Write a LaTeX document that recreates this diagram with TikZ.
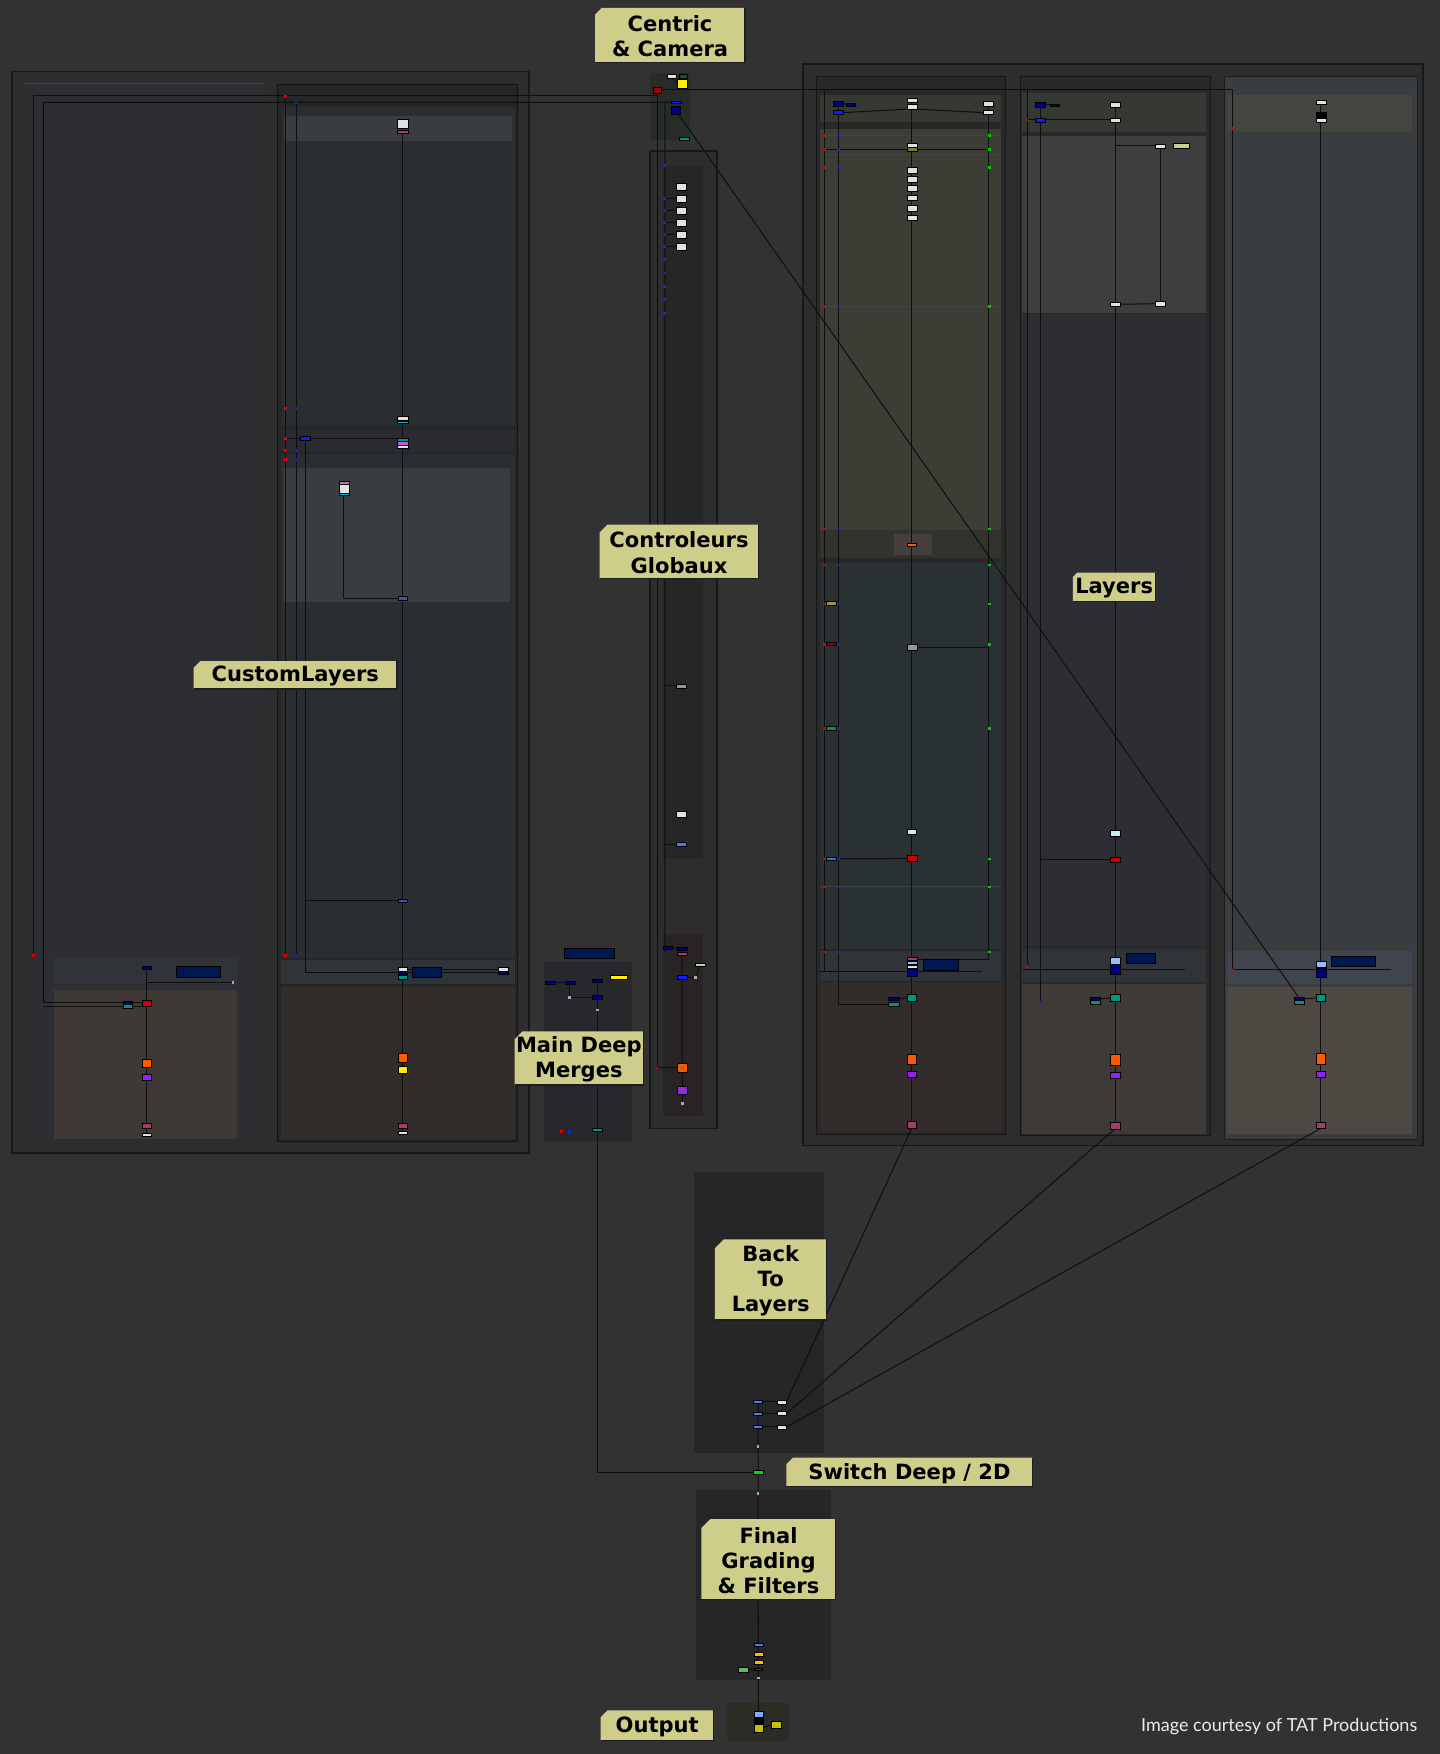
\documentclass[tikz,border=0pt]{standalone}
\usepackage{fontspec}
\newfontfamily\notefont{DejaVu Sans}
\newfontfamily\creditfont{Lato}
\pgfdeclarelayer{back}
\pgfdeclarelayer{wires}
\pgfdeclarelayer{front}
\pgfsetlayers{back,wires,main,front}
% backdrop colours
\definecolor{bgc}{RGB}{50,50,50}
\definecolor{framec}{RGB}{45,45,45}
\definecolor{frameb}{RGB}{24,24,24}
\definecolor{colA}{RGB}{44,46,50}
\definecolor{colB}{RGB}{37,39,39}
\definecolor{panelB}{RGB}{42,46,49}
\definecolor{lightP}{RGB}{58,61,64}
\definecolor{bandc}{RGB}{48,51,56}
\definecolor{brownA}{RGB}{62,57,53}
\definecolor{brownB}{RGB}{50,45,43}
\definecolor{ctrlc}{RGB}{38,38,38}
\definecolor{ctrlbr}{RGB}{40,36,36}
\definecolor{mdmc}{RGB}{38,40,44}
\definecolor{camc}{RGB}{40,44,40}
\definecolor{r1c}{RGB}{40,40,40}
\definecolor{greenP}{RGB}{54,57,49}
\definecolor{oliveP}{RGB}{60,61,53}
\definecolor{oliveD}{RGB}{50,51,45}
\definecolor{brownS}{RGB}{70,62,58}
\definecolor{tealP}{RGB}{41,49,51}
\definecolor{r2c}{RGB}{40,41,43}
\definecolor{grayP}{RGB}{62,62,62}
\definecolor{r2dark}{RGB}{44,46,52}
\definecolor{r2brown}{RGB}{62,58,54}
\definecolor{r3c}{RGB}{57,61,64}
\definecolor{r3green}{RGB}{66,70,62}
\definecolor{r3band}{RGB}{64,68,76}
\definecolor{r3brown}{RGB}{78,72,66}
\definecolor{outc}{RGB}{42,44,38}
\definecolor{notec}{RGB}{206,205,138}
\definecolor{noteedge}{RGB}{28,28,36}
\definecolor{linec}{RGB}{14,14,14}
\definecolor{edgec}{RGB}{68,70,74}
\definecolor{creditc}{RGB}{235,235,235}
\definecolor{dotc}{RGB}{170,170,170}
% node colours
\definecolor{nWhite}{RGB}{225,225,225}
\definecolor{nDB}{RGB}{0,0,135}
\definecolor{nDBbox}{RGB}{0,24,82}
\definecolor{nBlue}{RGB}{10,30,255}
\definecolor{nBlueM}{RGB}{60,80,200}
\definecolor{nBlueL}{RGB}{80,120,230}
\definecolor{nBlueS}{RGB}{50,120,210}
\definecolor{nTeal}{RGB}{0,150,125}
\definecolor{nOrange}{RGB}{255,90,0}
\definecolor{nPurple}{RGB}{150,30,255}
\definecolor{nViolet}{RGB}{190,90,230}
\definecolor{nPink}{RGB}{175,120,175}
\definecolor{nCyan}{RGB}{20,170,210}
\definecolor{nMag}{RGB}{165,60,105}
\definecolor{nRed}{RGB}{205,0,0}
\definecolor{nRedD}{RGB}{150,0,0}
\definecolor{nLCyan}{RGB}{200,235,250}
\definecolor{nLBlue}{RGB}{150,190,255}
\definecolor{nYellow}{RGB}{255,240,0}
\definecolor{nYellowD}{RGB}{200,190,0}
\definecolor{nGreen}{RGB}{0,225,0}
\definecolor{nGreenL}{RGB}{90,190,100}
\definecolor{nGreenD}{RGB}{20,90,30}
\definecolor{nGreenM}{RGB}{0,150,60}
\definecolor{nOliveG}{RGB}{100,130,60}
\definecolor{nOliveY}{RGB}{160,150,60}
\definecolor{nGray}{RGB}{150,150,150}
\definecolor{nLGreen}{RGB}{190,210,170}
\definecolor{nOrangeY}{RGB}{255,185,0}
\definecolor{nPurpleD}{RGB}{70,50,110}
\definecolor{dotRed}{RGB}{220,0,0}
\definecolor{dotBlue}{RGB}{30,30,230}
\definecolor{dotGreen}{RGB}{0,200,0}
\tikzset{
  ln/.style={draw=linec,line width=0.9pt},
  nd/.style={draw=black,line width=0.35pt,inner sep=0pt,outer sep=0pt,rectangle},
  notetxt/.style={font=\notefont\bfseries\fontsize{18.8}{22.6}\selectfont,align=center,text=black,inner sep=0pt},
  credit/.style={font=\creditfont\fontsize{16.1}{18}\selectfont,text=creditc,inner sep=0pt},
}
\newcommand\nd[6]{\node[nd,fill=#2,minimum width=#5,minimum height=#6] (#1) at (#3,#4) {};}
\newcommand\ndot[4]{\node[inner sep=0pt,outer sep=0pt,minimum size=2.4,fill=#4,draw=none] (#1) at (#2,#3) {};}
\newcommand\bdrop[5]{\fill[#1] (#2,#3) rectangle (#4,#5);}
\newcommand\stickynote[7]{%
  \fill[notec] ({#2+#6},#3) -- (#4,#3) -- (#4,#5) -- (#2,#5) -- (#2,{#3+#6}) -- cycle;
  \draw[noteedge,line width=1.2pt] (#2,#5) -- (#4,#5) -- (#4,#3);
  \node[notetxt] (#1) at ({(#2+#4)/2},{(#3+#5)/2+1}) {#7};}
\begin{document}
\begin{tikzpicture}[x=1pt,y=-1pt]
\useasboundingbox (0,0) rectangle (1287,1568);
\begin{pgfonlayer}{back}
\fill[bgc] (0,0) rectangle (1287,1568);
% ---------- left frame (CustomLayers)
\filldraw[fill=framec,draw=frameb,line width=1.5pt] (11,64) rectangle (473,1031);
\bdrop{colA}{21}{74}{236}{1021}
\draw[edgec,line width=1pt] (21,74.5) -- (236,74.5);
\bdrop{bandc}{48}{856}{212}{880}
\bdrop{brownA}{48}{885}{212}{1018}
\filldraw[fill=colB,draw=black!60!framec] (248,75) rectangle (462,1020);
\bdrop{panelB}{252}{96}{460}{381}
\bdrop{lightP}{254}{104}{458}{126}
\bdrop{bandc!85!black}{251}{384}{460}{404}
\bdrop{panelB}{251}{406}{460}{856}
\bdrop{lightP}{253}{418}{456}{538}
\bdrop{bandc}{251}{858}{460}{880}
\bdrop{brownB}{251}{882}{460}{1018}
% ---------- centre column
\bdrop{camc}{581}{65}{617}{125}
\filldraw[fill=framec,draw=frameb,line width=1.2pt] (581,135) rectangle (641,1009);
\bdrop{ctrlc}{593}{148}{628}{768}
\bdrop{ctrlbr}{593}{835}{628}{998}
\bdrop{mdmc}{486}{860}{565}{1020}
% ---------- right frame (Layers)
\filldraw[fill=framec,draw=frameb,line width=1.5pt] (718,57) rectangle (1272,1024);
\filldraw[fill=r1c,draw=black!50!framec] (730,68) rectangle (899,1014);
\bdrop{greenP}{733}{85}{895}{109}
\bdrop{oliveP}{733}{115}{895}{474}
\draw[edgec!80!oliveP,line width=1pt] (735,121) -- (893,121) (735,138) -- (893,138) (735,274) -- (893,274);
\bdrop{oliveD}{733}{474}{895}{499}
\bdrop{brownS}{799}{477}{833}{496}
\bdrop{tealP}{733}{503}{895}{848}
\draw[edgec!80!tealP,line width=1pt] (733,792.5) -- (895,792.5);
\bdrop{bandc}{733}{850}{895}{877}
\bdrop{brownB}{733}{878}{895}{1012}
\filldraw[fill=r2c,draw=black!50!framec] (912,68) rectangle (1082,1015);
\bdrop{greenP}{914}{83}{1078}{118}
\bdrop{grayP}{914}{122}{1078}{280}
\bdrop{r2dark}{914}{281}{1078}{846}
\bdrop{bandc}{914}{848}{1078}{878}
\bdrop{r2brown}{914}{880}{1078}{1014}
\filldraw[fill=r3c,draw=black!40!framec] (1094,68) rectangle (1267,1018);
\bdrop{r3green}{1097}{85}{1262}{118}
\bdrop{r3band}{1097}{850}{1262}{880}
\bdrop{r3brown}{1097}{882}{1262}{1014}
% ---------- bottom
\bdrop{ctrlc}{620}{1048}{737}{1299}
\bdrop{ctrlc}{622}{1332}{743}{1502}
\bdrop{outc}{650}{1522}{705}{1556}
\end{pgfonlayer}

% ================= NODES =================
% Centric & Camera
\nd{cW}{nWhite}{600.8}{68}{8}{3}
\nd{cG}{nGreenD}{610.7}{68}{7}{3}
\nd{cY}{nYellow}{610}{74.5}{9}{8}
\nd{cR}{nRedD!70!nRed}{587.5}{80.4}{6.5}{5}
\nd{cB1}{nBlue}{604.7}{91.3}{9}{2}
\nd{cB}{nDB}{604.1}{98.6}{7.8}{7}
\nd{cT}{nTeal}{611.6}{124}{8.3}{3}
% left column A
\nd{aTop}{nDB}{131}{865}{8.6}{2}
\nd{aBox}{nDBbox}{177.3}{868.7}{39.4}{9.4}
\ndot{aDot}{208.3}{878.2}{dotc}
\nd{aDB}{nDB}{114}{896.1}{8.6}{3}
\nd{aTl}{nTeal}{114}{899.6}{8.6}{3}
\nd{aRed}{nRed}{131}{896.7}{8.6}{5.4}
\nd{aOr}{nOrange}{131}{950.3}{8.6}{7.7}
\nd{aPu}{nPurple}{131}{962.8}{8.6}{5}
\nd{aMg}{nMag}{131}{1006.3}{8.6}{5}
\nd{aWh}{nWhite}{131}{1014.3}{8.6}{2.7}
% right column B
\nd{bTop}{nWhite}{360}{110.2}{9}{8}
\nd{bTopM}{nMag}{360}{117.7}{9}{2.5}
\nd{bCy}{nWhite}{360}{374}{9}{4}
\nd{bCy2}{nCyan}{360}{377.5}{9}{2.5}
\nd{bBl}{nBlue}{273.2}{391.7}{9}{4}
\nd{bSt1}{nTeal}{360}{393}{9}{3}
\nd{bSt2}{nViolet}{360}{396.3}{9}{3}
\nd{bSt3}{nWhite}{360}{399.6}{9}{3}
\nd{bPWt}{nPink}{307.5}{431.5}{9}{3}
\nd{bPW}{nWhite}{307.5}{437}{9}{8}
\nd{bPWb}{nCyan}{307.5}{442}{9}{2}
\nd{bB1}{nBlueM}{360}{534.8}{8}{3}
\nd{bB2}{nBlueM}{360}{805}{8}{3}
\nd{bW}{nWhite}{360}{866.3}{8.6}{3}
\nd{bDBu}{nDB}{360}{869.3}{8.6}{3}
\nd{bBox}{nDBbox}{381.8}{869}{26}{9}
\nd{bWR}{nWhite}{449.9}{866.3}{8.6}{3}
\nd{bDBR}{nDB}{449.9}{869.3}{8.6}{2.5}
\nd{bTl}{nTeal}{360}{873.7}{8.6}{3}
\nd{bOr}{nOrange}{360}{945.2}{8.6}{8}
\nd{bYe}{nYellow}{360}{956.2}{8.6}{6}
\nd{bMg}{nMag}{360}{1006.3}{8.6}{5}
\nd{bWh}{nWhite}{360}{1012.4}{8.6}{2.7}
% Controleurs
\foreach \y [count=\i] in {166.8,177.6,188.3,199,209.8,220.5}{\nd{kW\i}{nWhite}{608.9}{\y}{9.5}{6.5}}
\nd{kGr}{nGray}{608.6}{613.1}{9}{3.6}
\nd{kWt}{nWhite}{608.6}{728}{9}{5}
\nd{kBl}{nBlueL}{608.6}{754.6}{9}{4}
\nd{kDB1}{nDB}{597}{847}{8}{2.5}
\nd{kDB2}{nDB}{609.6}{848}{9}{2.5}
\nd{kMg}{nMag}{609.6}{852.6}{9}{2.5}
\nd{kLG}{nLGreen}{625.6}{862.4}{9}{3.5}
\nd{kBu}{nBlue}{609.6}{873.7}{9}{3}
\ndot{kDt}{621.7}{873.7}{dotc}
\nd{kOx}{nOrange}{610}{954.7}{8.5}{8}
\nd{kPx}{nPurple}{610}{974.7}{8.5}{7}
\ndot{kEnd}{610}{986.6}{dotc}
\ndot{kRd}{587.4}{954.7}{dotRed}
\draw[black!60,line width=0.4pt] (kOx.north west) -- (kOx.south east) (kOx.north east) -- (kOx.south west)
  (kPx.north west) -- (kPx.south east) (kPx.north east) -- (kPx.south west);
% Main Deep Merges
\nd{mBox}{nDBbox}{526.5}{852}{45}{9}
\nd{m1}{nDB}{491.5}{878.2}{9}{3}
\nd{m2}{nDB}{509.4}{878.2}{9}{3}
\nd{m3}{nDB}{534.1}{876.7}{9}{3}
\nd{m4}{nDB}{534.1}{891.3}{9}{3}
\ndot{mDt}{509.4}{892}{dotc}
\ndot{mDt2}{534.1}{903}{dotc}
\nd{mY}{nYellow}{553.2}{873.7}{15}{3}
\nd{mT}{nTeal}{534.1}{1010}{9}{3}
\ndot{mR}{502}{1011.6}{dotRed}
\ndot{mBd}{509}{1011.6}{dotBlue}
% R1
\nd{r1d1}{nDB}{749}{92.3}{9}{4.5}
\nd{r1sm}{nDB}{760.5}{93.5}{8}{2}
\nd{r1b}{nBlue}{749.6}{100.7}{9}{3.5}
\nd{r1w1}{nWhite}{815.2}{89.4}{9}{4}
\nd{r1w2}{nWhite}{815.2}{95.3}{9}{4}
\nd{r1x1}{nWhite}{883.8}{92.3}{9}{4.5}
\nd{r1x2}{nWhite}{883.8}{100.7}{9}{3.5}
\nd{r1g}{nWhite}{815.2}{129.6}{9}{4}
\nd{r1g2}{nOliveG}{815.2}{133.5}{9}{4}
\foreach \y [count=\i] in {151.9,160,168.3,176.7,186.2,194.5}{\nd{r1k\i}{nWhite}{815.2}{\y}{9}{5}}
\nd{r1o}{nOrange}{815.2}{487}{8}{3}
\nd{r1L1}{nOliveY}{743}{539.2}{9}{3}
\nd{r1L2}{nRedD}{743}{575.5}{9}{3}
\nd{r1L3}{nGreenM}{743}{650.9}{9}{3}
\nd{r1L4}{nBlueS}{743}{767.7}{9}{3}
\nd{r1Gy}{nGray}{815.2}{578.5}{9}{5}
\nd{r1Cy}{nLCyan}{815.2}{743.5}{8}{5}
\nd{r1Rd}{nRed}{815.2}{767.4}{9}{5}
\nd{r1Mg0}{nMag}{815.2}{857.3}{9}{3}
\nd{r1LB}{nLBlue}{815.2}{860.6}{9}{3.5}
\nd{r1Wb}{nWhite}{815.2}{864.3}{9}{3}
\nd{r1DB}{nDB}{815.2}{869.5}{9}{7}
\nd{r1Box}{nDBbox}{841}{862.5}{31}{10}
\nd{r1T}{nTeal}{815.2}{892.2}{8.5}{6}
\nd{r1lD}{nDB}{798.9}{892.8}{9}{3}
\nd{r1lT}{nTeal}{798.9}{897.6}{9}{3}
\nd{r1Or}{nOrange}{815.2}{946.7}{8.5}{9}
\nd{r1Pu}{nPurple}{815.2}{960.4}{8.5}{5.5}
\nd{r1Mg}{nMag}{815.2}{1005.4}{8.5}{5.5}
% R2
\nd{r2d1}{nDB}{930.2}{93.2}{9}{4.5}
\nd{r2sm}{nDB}{942.9}{93.8}{8}{2}
\nd{r2b}{nBlue}{930.2}{107.2}{9}{3.5}
\nd{r2w1}{nWhite}{996.9}{93.2}{9}{4.5}
\nd{r2w2}{nWhite}{996.9}{107.2}{9}{3.5}
\nd{r2g1}{nWhite}{1037}{130.5}{9}{4}
\nd{r2yl}{notec}{1056}{130.5}{14.6}{4.8}
\nd{r2g2}{nWhite}{996.9}{272}{9}{3.5}
\nd{r2g3}{nWhite}{1037}{271.5}{9}{4}
\nd{r2Cy}{nLCyan}{996.9}{745}{8.5}{5}
\nd{r2Rd}{nRed}{996.9}{768.6}{9}{5}
\nd{r2LB}{nLBlue}{996.9}{858.5}{9}{6}
\nd{r2DB}{nDB}{996.9}{866.3}{9}{9}
\nd{r2Box}{nDBbox}{1019.5}{856.7}{25.6}{9.5}
\nd{r2T}{nTeal}{996.9}{892.2}{8.5}{6}
\nd{r2lD}{nDB}{979.4}{892.8}{9}{3}
\nd{r2lT}{nTeal}{979.4}{895.8}{9}{3}
\nd{r2Or}{nOrange}{996.9}{947.3}{8.5}{9}
\nd{r2Pu}{nPurple}{996.9}{961.3}{8.5}{5.5}
\nd{r2Mg}{nMag}{996.9}{1006.3}{8.5}{5.5}
% R3
\nd{r3w1}{nWhite}{1180.7}{91.2}{9}{4}
\nd{r3k}{black}{1180.7}{102.5}{9}{5}
\nd{r3w2}{nWhite}{1180.7}{107.4}{9}{3}
\nd{r3LB}{nLBlue}{1180.7}{862.1}{9}{5}
\nd{r3DB}{nDB}{1180.7}{869.3}{9}{8}
\nd{r3Box}{nDBbox}{1209.5}{859.2}{39.4}{9.7}
\nd{r3T}{nTeal}{1180.7}{892.2}{8.5}{6}
\nd{r3lD}{nDB}{1161.8}{892.8}{9}{3}
\nd{r3lT}{nTeal}{1161.8}{895.8}{9}{3}
\nd{r3Or}{nOrange}{1180.7}{946.4}{8.5}{9}
\nd{r3Pu}{nPurple}{1180.7}{960.1}{8.5}{5.5}
\nd{r3Mg}{nMag}{1180.7}{1006}{8.5}{5.5}
% Back to layers / switch / final / output
\foreach \y [count=\i] in {1253.2,1263.7,1275.6}{\nd{bl\i}{nBlueL}{677.7}{\y}{8}{3}\nd{bw\i}{nWhite}{699}{\y}{8}{3.5}}
\ndot{blDot}{677.7}{1292.8}{dotc}
\nd{sw}{nGreen}{677.7}{1316.1}{8.5}{3.5}
\ndot{fDot}{677.7}{1335}{dotc}
\nd{f1}{nBlueL}{677.9}{1470}{8}{3}
\nd{f2}{nOrangeY}{677.9}{1478.7}{8}{3}
\nd{f3}{nOrangeY}{677.9}{1485.9}{8}{3}
\nd{fG}{nGreenL}{664.5}{1492.5}{9}{4}
\nd{fP}{nPurpleD}{677.9}{1492.5}{7}{2}
\ndot{fEnd}{677.9}{1500}{dotc}
\nd{o1}{nLBlue!70!nBlueL}{677.9}{1532.6}{8}{5}
\nd{oK}{black}{677.9}{1538.3}{8}{4}
\nd{o2}{nYellowD}{677.9}{1544.8}{8}{7}
\nd{o3}{nYellowD}{693.5}{1541.8}{9}{6}

% ---------- coordinates
\coordinate (jC1) at (587.5,85.8);
\coordinate (jC2) at (594.3,91.5);
\coordinate (jA1) at (29.8,85.8);
\coordinate (eA1) at (29.8,854);
\coordinate (jA2) at (38.8,91.5);
\coordinate (jB1) at (255.2,85.8);
\coordinate (eB1) at (255.2,854);
\coordinate (jB2) at (264.7,91.5);
\coordinate (eB2) at (264.7,854);
\coordinate (j1a) at (737.2,80.4);
\coordinate (e1a) at (737.2,868.5);
\coordinate (h1s) at (733.2,868.5);
\coordinate (h1e) at (878,868.5);
\coordinate (j2a) at (918.1,80.4);
\coordinate (e2a) at (918.1,864);
\coordinate (e2b) at (930.2,896);
\coordinate (h2s) at (914.8,867);
\coordinate (h2e) at (1059.6,867);
\coordinate (j3) at (1101.7,867);
\coordinate (e3) at (1243.8,867);
\coordinate (eK) at (594.3,850);

\begin{pgfonlayer}{wires}
% Centric links to the left
\draw[ln] (cR.south) -- (jC1) -- (jA1) -- (eA1);
\draw[ln] (cB1.west) -- (jC2) -- (jA2) |- (aDB.west);
\draw[ln] (jA2 |- aTl) -- (aTl.west);
\draw[ln] (jB1) -- (eB1);
\draw[ln] (jB2) -- (eB2);
\draw[ln] (jC1) |- (kRd);
\draw[ln] (kRd) -- (kOx.west);
\draw[ln] (jC2) -- (eK) -- (kDB1.west);
% Centric long links to the right
\draw[ln] (cR.east) -| (j3) -- (e3);
\draw[ln] (cB) -- (r3lD);
\draw[ln] (cW.south) -- (cY.west);
% column A
\draw[ln] (aTop.south) -- (aWh.north);
\draw[ln] (aTop |- aDot) -- (aDot);
\draw[ln] (aDB.east) -- (aRed.west |- aDB);
\draw[ln] (aTl.east) -- (aRed.west |- aTl);
% column B
\draw[ln] (bTop.south) -- (bWh.north);
\draw[ln] (jB1 |- bBl) -- (bBl.west);
\draw[ln] (bBl.east) -- (bSt1.west |- bBl);
\draw[ln] (bBl.south) |- (bDBR.west);
\draw[ln] (bBl |- bB2) -- (bB2.west);
\draw[ln] (bPW.south) |- (bB1.west);
\draw[ln] (bW.east) -- (bWR.west);
% Controleurs
\foreach \i in {2,...,6}{\draw[ln] (jC2 |- kW\i) -- (kW\i.west);}
\draw[ln] (jC2 |- kGr) -- (kGr.west);
\draw[ln] (jC2 |- kBl) -- (kBl.west);
\draw[ln] (kDB2.south) -- (kEnd.north);
\draw[ln] (kDB1.east) -- (kDB2.west);
\draw[ln] (kLG.south) -- (kDt) -- (kBu.east);
% Main Deep Merges
\draw[ln] (m1.east) -- (m2.west);
\draw[ln] (m2.south) |- (m4.west);
\draw[ln] (m3.south) -- (mT.north);
\draw[ln] (mT.south) |- (sw.west);
% R1
\draw[ln] (j1a) -- (e1a);
\draw[ln] (r1d1.south) -- (r1b.north);
\draw[ln] (r1d1.east) -- (r1sm.west);
\draw[ln] (r1b.south) |- (r1lT.west);
\draw[ln] (r1x1.south) -- (r1x2.north);
\draw[ln] (r1x2.south) |- (r1Mg0.east);
\draw[ln] (r1w1.south) -- (r1Mg.north);
\draw[ln] (r1b.east) -- (r1w2.south) -- (r1x2.west);
\draw[ln] (j1a |- r1g2) -- (r1x2 |- r1g2);
\draw[ln] (r1Gy.east) -- (r1Gy -| r1x2);
\draw[ln] (r1L4.east) -- (r1Rd.west);
\draw[ln] (h1s) -- (h1e);
\draw[ln] (r1lD.east) -- (r1T.west);
% R2
\draw[ln] (j2a) -- (e2a);
\draw[ln] (r2d1.south) -- (r2b.north);
\draw[ln] (r2d1.east) -- (r2sm.west);
\draw[ln] (j2a |- r2b) -- (r2w2.west);
\draw[ln] (r2b.south) -- (e2b);
\draw[ln] (r2w1.south) -- (r2Mg.north);
\draw[ln] (r2w2 |- r2g1) -- (r2g1.west);
\draw[ln] (r2g1.south) -- (r2g3.north);
\draw[ln] (r2g2.east) -- (r2g3.west);
\draw[ln] (r2b |- r2Rd) -- (r2Rd.west);
\draw[ln] (h2s) -- (h2e);
\draw[ln] (r2lD.east) -- (r2T.west);
% R3
\draw[ln] (r3w1.south) -- (r3Mg.north);
\draw[ln] (r3lD.east) -- (r3T.west);
% Back to layers and below
\foreach \i in {1,2,3}{\draw[ln] (bl\i.east) -- (bw\i.west);}
\draw[ln] (bw1.east) -- (r1Mg.south);
\draw[ln] (bw2.east) -- (r2Mg.south);
\draw[ln] (bw3.east) -- (r3Mg.south);
\draw[ln] (bl1.south) -- (o2.north);
\draw[ln] (fG.east) -- (fP.west);
\draw[ln] (o2.east) -- (o3.west);
\end{pgfonlayer}

% small input dots
\foreach \y [count=\i] in {121,133.5,150,274,473,505,540,576,651,768,793,851}{%
  \ndot{r1rd\i}{737.2}{\y}{dotRed}\ndot{r1bd\i}{749.6}{\y}{dotBlue}\ndot{r1gd\i}{884.6}{\y}{dotGreen}}
\foreach \y [count=\i] in {148,177.6,188.3,199,209.8,220.5,232,244,256,268,280}{\ndot{kbd\i}{594.3}{\y}{dotBlue}}
\foreach \y [count=\i] in {86,365,392,403,411,854}{\ndot{brd\i}{255.2}{\y}{dotRed}}
\foreach \y [count=\i] in {92,365,403,411,854}{\ndot{bbd\i}{264.7}{\y}{dotBlue}}
\ndot{ard}{29.8}{854}{dotRed}
\ndot{r2rd}{918.1}{864}{dotRed}
\ndot{r2rd2}{918.1}{107.2}{dotRed}
\ndot{r2bd}{930.2}{896}{dotBlue}
\ndot{r3rd}{1101.7}{867}{dotRed}
\ndot{r3rd2}{1101.7}{115}{dotRed}

% ================= STICKY NOTES =================
\begin{pgfonlayer}{front}
\stickynote{nCentric}{532}{7}{666}{56}{6}{Centric\\\& Camera}
\stickynote{nCtrl}{536}{469}{678}{517}{7}{Controleurs\\Globaux}
\stickynote{nCustom}{173}{591}{355}{616}{6}{CustomLayers}
\stickynote{nLayers}{959}{512}{1033}{538}{4}{Layers}
\stickynote{nMDM}{460}{922}{575}{970}{7}{Main Deep\\Merges}
\stickynote{nBack}{639}{1108}{739}{1180}{8}{Back\\To\\Layers}
\stickynote{nSwitch}{703}{1303}{923}{1329}{6}{Switch Deep / 2D}
\stickynote{nFinal}{627}{1358}{747}{1430}{8}{Final\\Grading\\\& Filters}
\stickynote{nOut}{537}{1529}{638}{1556}{6}{Output}
\node[credit] (credit) at (1143.5,1543) {Image courtesy of TAT Productions};
\end{pgfonlayer}
\end{tikzpicture}
\end{document}
